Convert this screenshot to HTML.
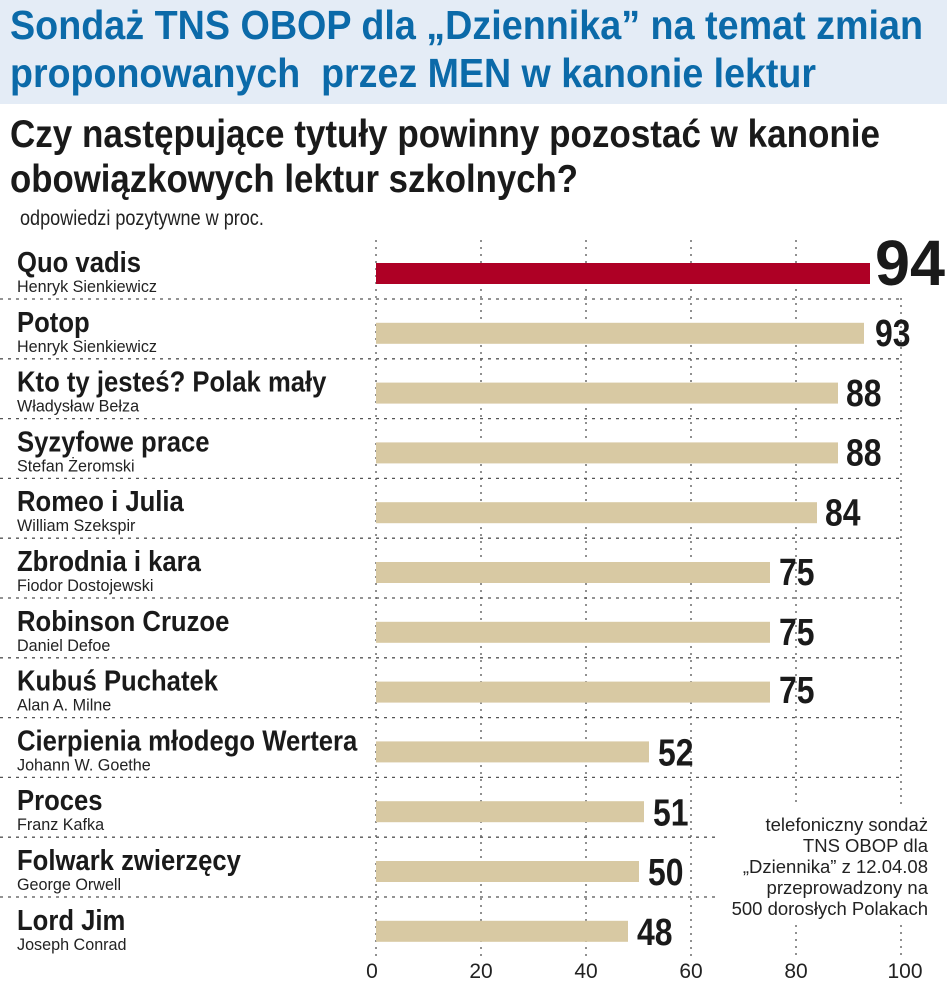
<!DOCTYPE html>
<html><head><meta charset="utf-8"><style>
html,body{margin:0;padding:0;background:#fff;}
svg{display:block}
text{font-family:"Liberation Sans",sans-serif;}
</style></head><body>
<svg width="947" height="992" viewBox="0 0 947 992" xmlns="http://www.w3.org/2000/svg">
<rect x="0" y="0" width="947" height="104" fill="#e4ecf6"/>
<text x="10" y="39" font-size="41" font-weight="bold" fill="#0b6aa9" textLength="913" lengthAdjust="spacingAndGlyphs">Sondaż TNS OBOP dla „Dziennika” na temat zmian</text>
<text x="10" y="87" font-size="41" font-weight="bold" fill="#0b6aa9" textLength="806" lengthAdjust="spacingAndGlyphs" xml:space="preserve">proponowanych  przez MEN w kanonie lektur</text>
<text x="10" y="147" font-size="39" font-weight="bold" fill="#1a1a1a" textLength="870" lengthAdjust="spacingAndGlyphs">Czy następujące tytuły powinny pozostać w kanonie</text>
<text x="10" y="192" font-size="39" font-weight="bold" fill="#1a1a1a" textLength="568" lengthAdjust="spacingAndGlyphs">obowiązkowych lektur szkolnych?</text>
<text transform="translate(20,225) scale(0.86,1)" font-size="21" fill="#222">odpowiedzi pozytywne w proc.</text>
<g stroke="#555" stroke-width="1.3" stroke-dasharray="2,5">
<line x1="376" y1="240" x2="376" y2="958"/>
<line x1="481" y1="240" x2="481" y2="958"/>
<line x1="586" y1="240" x2="586" y2="958"/>
<line x1="691" y1="240" x2="691" y2="958"/>
<line x1="796" y1="240" x2="796" y2="805"/>
<line x1="796" y1="925" x2="796" y2="958"/>
<line x1="901" y1="298" x2="901" y2="805"/>
<line x1="901" y1="925" x2="901" y2="958"/>
</g>
<g stroke="#555" stroke-width="1.3" stroke-dasharray="3,5">
<line x1="0" y1="299" x2="900" y2="299"/>
<line x1="0" y1="358.8" x2="900" y2="358.8"/>
<line x1="0" y1="418.6" x2="900" y2="418.6"/>
<line x1="0" y1="478.4" x2="900" y2="478.4"/>
<line x1="0" y1="538.2" x2="900" y2="538.2"/>
<line x1="0" y1="598" x2="900" y2="598"/>
<line x1="0" y1="657.8" x2="900" y2="657.8"/>
<line x1="0" y1="717.6" x2="900" y2="717.6"/>
<line x1="0" y1="777.4" x2="900" y2="777.4"/>
<line x1="0" y1="837.2" x2="715" y2="837.2"/>
<line x1="0" y1="897" x2="715" y2="897"/>
</g>
<g fill="#d8c9a3">
<rect x="376" y="263" width="494" height="21" fill="#ae0025"/>
<rect x="376" y="322.8" width="488" height="21"/>
<rect x="376" y="382.6" width="462" height="21"/>
<rect x="376" y="442.4" width="462" height="21"/>
<rect x="376" y="502.2" width="441" height="21"/>
<rect x="376" y="562" width="394" height="21"/>
<rect x="376" y="621.8" width="394" height="21"/>
<rect x="376" y="681.6" width="394" height="21"/>
<rect x="376" y="741.4" width="273" height="21"/>
<rect x="376" y="801.2" width="268" height="21"/>
<rect x="376" y="861" width="263" height="21"/>
<rect x="376" y="920.8" width="252" height="21"/>
</g>
<g font-size="29" font-weight="bold" fill="#1a1a1a">
<text transform="translate(17,272) scale(0.885,1)">Quo vadis</text>
<text transform="translate(17,331.8) scale(0.885,1)">Potop</text>
<text transform="translate(17,391.6) scale(0.885,1)">Kto ty jesteś? Polak mały</text>
<text transform="translate(17,451.4) scale(0.885,1)">Syzyfowe prace</text>
<text transform="translate(17,511.2) scale(0.885,1)">Romeo i Julia</text>
<text transform="translate(17,571) scale(0.885,1)">Zbrodnia i kara</text>
<text transform="translate(17,630.8) scale(0.885,1)">Robinson Cruzoe</text>
<text transform="translate(17,690.6) scale(0.885,1)">Kubuś Puchatek</text>
<text transform="translate(17,750.4) scale(0.885,1)">Cierpienia młodego Wertera</text>
<text transform="translate(17,810.2) scale(0.885,1)">Proces</text>
<text transform="translate(17,870) scale(0.885,1)">Folwark zwierzęcy</text>
<text transform="translate(17,929.8) scale(0.885,1)">Lord Jim</text>
</g>
<g font-size="17" fill="#222">
<text transform="translate(17,292) scale(0.95,1)">Henryk Sienkiewicz</text>
<text transform="translate(17,351.8) scale(0.95,1)">Henryk Sienkiewicz</text>
<text transform="translate(17,411.6) scale(0.95,1)">Władysław Bełza</text>
<text transform="translate(17,471.4) scale(0.95,1)">Stefan Żeromski</text>
<text transform="translate(17,531.2) scale(0.95,1)">William Szekspir</text>
<text transform="translate(17,591) scale(0.95,1)">Fiodor Dostojewski</text>
<text transform="translate(17,650.8) scale(0.95,1)">Daniel Defoe</text>
<text transform="translate(17,710.6) scale(0.95,1)">Alan A. Milne</text>
<text transform="translate(17,770.4) scale(0.95,1)">Johann W. Goethe</text>
<text transform="translate(17,830.2) scale(0.95,1)">Franz Kafka</text>
<text transform="translate(17,890) scale(0.95,1)">George Orwell</text>
<text transform="translate(17,949.8) scale(0.95,1)">Joseph Conrad</text>
</g>
<text x="875" y="285" font-size="64" font-weight="bold" fill="#1a1a1a" textLength="70" lengthAdjust="spacingAndGlyphs">94</text>
<g font-size="38" font-weight="bold" fill="#1a1a1a">
<text transform="translate(875,346) scale(0.84,1)">93</text>
<text transform="translate(846,406) scale(0.84,1)">88</text>
<text transform="translate(846,465.6) scale(0.84,1)">88</text>
<text transform="translate(825,525.4) scale(0.84,1)">84</text>
<text transform="translate(779,585.2) scale(0.84,1)">75</text>
<text transform="translate(779,645) scale(0.84,1)">75</text>
<text transform="translate(779,702.8) scale(0.84,1)">75</text>
<text transform="translate(658,765.6) scale(0.84,1)">52</text>
<text transform="translate(653,825.4) scale(0.84,1)">51</text>
<text transform="translate(648,885.2) scale(0.84,1)">50</text>
<text transform="translate(637,945) scale(0.84,1)">48</text>
</g>
<g font-size="18.5" fill="#222" text-anchor="end">
<text x="928" y="831">telefoniczny sondaż</text>
<text x="928" y="852">TNS OBOP dla</text>
<text x="928" y="873">„Dziennika” z 12.04.08</text>
<text x="928" y="894">przeprowadzony na</text>
<text x="928" y="915">500 dorosłych Polakach</text>
</g>
<g font-size="21" fill="#222" text-anchor="middle">
<text x="372" y="978">0</text>
<text x="481" y="978">20</text>
<text x="586" y="978">40</text>
<text x="691" y="978">60</text>
<text x="796" y="978">80</text>
<text x="905" y="978">100</text>
</g>
</svg>
</body></html>
